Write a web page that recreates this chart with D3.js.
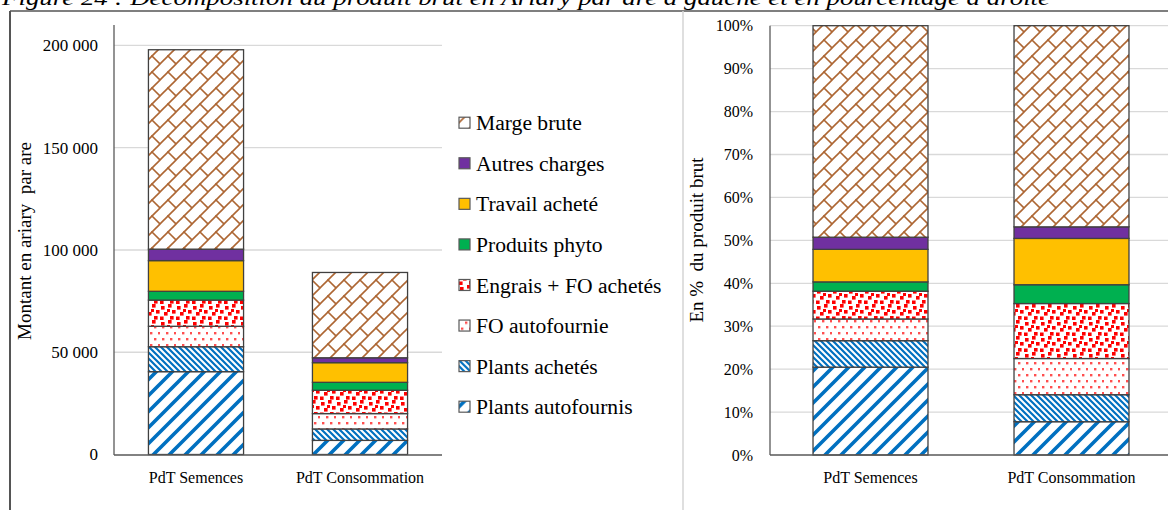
<!DOCTYPE html>
<html><head><meta charset="utf-8">
<script src="https://cdn.jsdelivr.net/npm/d3@7"></script>
<style>
html,body{margin:0;padding:0;background:#fff;}
svg{display:block;font-family:"Liberation Serif","Times New Roman",serif;}
</style></head>
<body><svg id="c" width="1168" height="510"></svg>
<script>
// ---- data ----
const categories = ["PdT Semences", "PdT Consommation"];
const seriesNames = ["Plants autofournis","Plants achetés","FO autofournie","Engrais + FO achetés","Produits phyto","Travail acheté","Autres charges","Marge brute"];
const plantsAutofournis = [40500, 6900];
const plantsAchetes     = [12200, 5600];
const foAutofournie     = [10000, 7500];
const engraisFO         = [12800, 11400];
const produitsPhyto     = [4300, 3900];
const travailAchete     = [15000, 9600];
const autresCharges     = [5600, 2400];
const margeBrute        = [97500, 41700];
const leftTicks  = [0, 50000, 100000, 150000, 200000];
const rightTicks = [0,0.1,0.2,0.3,0.4,0.5,0.6,0.7,0.8,0.9,1];
const legendOrder = ["Marge brute","Autres charges","Travail acheté","Produits phyto","Engrais + FO achetés","FO autofournie","Plants achetés","Plants autofournis"];
const titleText = "Figure 24 : Décomposition du produit brut en Ariary par are à gauche et en pourcentage à droite";

const seriesValues = [plantsAutofournis, plantsAchetes, foAutofournie, engraisFO, produitsPhyto, travailAchete, autresCharges, margeBrute];
const rows = categories.map((c,i)=>{const o={cat:c}; seriesNames.forEach((s,j)=>o[s]=seriesValues[j][i]); return o;});

const svg = d3.select("#c");
const defs = svg.append("defs");
const blue = "#0070c0";
const brick = "#ad6633";

function pat(id,w,h){const p=defs.append("pattern").attr("id",id).attr("patternUnits","userSpaceOnUse").attr("width",w).attr("height",h);
  p.append("rect").attr("width",w).attr("height",h).attr("fill","#fff"); return p;}
// Marge brute - diagonal brick
{const p=pat("pMarge",16,16);
 p.append("path").attr("d","M-4,20L20,-4").attr("stroke",brick).attr("stroke-width",1.6).attr("fill","none");
 p.append("path").attr("d","M8,8L16,16").attr("stroke",brick).attr("stroke-width",1.6).attr("stroke-linecap","square").attr("fill","none");
 p.append("path").attr("d","M0,0L0.01,0.01").attr("stroke",brick).attr("stroke-width",1.6).attr("stroke-linecap","square");}
// Engrais - large red confetti
{const p=pat("pEngrais",16,16);
 [[1,2],[8,0],[12,6],[4,8],[10,12],[0,12.5],[7,5]].forEach(([x,y],k)=>p.append("rect").attr("x",x).attr("y",y).attr("width",k==6?3:3.6).attr("height",k==6?3:3.6).attr("fill","#ff0000"));}
// FO autofournie - small red dots
{const p=pat("pFO",16,12);
 [[2,2],[10,2],[6,8],[14,8]].forEach(([x,y])=>p.append("rect").attr("x",x).attr("y",y).attr("width",2.4).attr("height",2.4).attr("fill","#ff3030").attr("opacity",0.85));}
// Plants achetés - narrow downward diagonal
{const p=pat("pAchetes",6,6);
 p.append("path").attr("d","M-3,-3L9,9M-3,3L3,9M3,-3L9,3").attr("stroke",blue).attr("stroke-width",2.2).attr("fill","none");}
// Plants autofournis - wide upward diagonal
{const p=pat("pAuto",16,16);
 p.append("path").attr("d","M-4,20L20,-4M-4,4L4,-4M12,20L20,12").attr("stroke",blue).attr("stroke-width",3.6).attr("fill","none");}

const fills = {
 "Plants autofournis":"url(#pAuto)",
 "Plants achetés":"url(#pAchetes)",
 "FO autofournie":"url(#pFO)",
 "Engrais + FO achetés":"url(#pEngrais)",
 "Produits phyto":"#00b050",
 "Travail acheté":"#ffc000",
 "Autres charges":"#7030a0",
 "Marge brute":"url(#pMarge)"
};

// ---- frames & title ----
svg.append("text").attr("x",2).attr("y",5).attr("font-style","italic").attr("font-size",22)
  .attr("textLength",1048).attr("lengthAdjust","spacingAndGlyphs").attr("fill","#000").text(titleText);
svg.append("line").attr("x1",10).attr("x2",1168).attr("y1",11).attr("y2",11).attr("stroke","#555").attr("stroke-width",1.5);
svg.append("line").attr("x1",10).attr("x2",10).attr("y1",11).attr("y2",510).attr("stroke","#555").attr("stroke-width",2);
svg.append("line").attr("x1",683).attr("x2",683).attr("y1",11).attr("y2",510).attr("stroke","#d4d4d4").attr("stroke-width",1.5);

const axisCol = "#595959", gridCol = "#d9d9d9", segStroke = "#404040";

// ---- left chart ----
const xL = d3.scaleBand().domain(categories).range([114,442]).paddingInner(0.42).paddingOuter(0.21);
const yL = d3.scaleLinear().domain([0,210000]).range([454.5,25]);
const fmt = d3.formatLocale({thousands:" ",grouping:[3],decimal:",",currency:["",""]}).format(",");
const gL = svg.append("g");
gL.append("g").selectAll("line").data(leftTicks.filter(t=>t>0)).join("line")
  .attr("x1",114).attr("x2",442).attr("y1",d=>yL(d)).attr("y2",d=>yL(d)).attr("stroke",gridCol).attr("stroke-width",1.3);
const stackL = d3.stack().keys(seriesNames)(rows);
gL.append("g").selectAll("g").data(stackL).join("g").attr("fill",d=>fills[d.key])
  .selectAll("rect").data(d=>d).join("rect")
  .attr("x",d=>xL(d.data.cat)).attr("width",xL.bandwidth())
  .attr("y",d=>yL(d[1])).attr("height",d=>yL(d[0])-yL(d[1]))
  .attr("stroke",segStroke).attr("stroke-width",1.3);
gL.append("line").attr("x1",114).attr("x2",114).attr("y1",25).attr("y2",455).attr("stroke",axisCol).attr("stroke-width",1.3);
gL.append("line").attr("x1",114).attr("x2",442).attr("y1",455).attr("y2",455).attr("stroke",axisCol).attr("stroke-width",1.3);
gL.append("g").selectAll("text").data(leftTicks).join("text")
  .attr("x",98).attr("y",d=>yL(d)).attr("dy","0.35em").attr("text-anchor","end").attr("font-size",17).text(d=>fmt(d));
gL.append("g").selectAll("text").data(categories).join("text")
  .attr("x",d=>xL(d)+xL.bandwidth()/2).attr("y",483).attr("text-anchor","middle").attr("font-size",16).text(d=>d);
gL.append("text").attr("transform","translate(31,241) rotate(-90)").attr("text-anchor","middle").attr("font-size",19)
  .style("white-space","pre").text("Montant en ariary  par are");

// legend
const lg = svg.append("g").selectAll("g").data(legendOrder).join("g").attr("transform",(d,i)=>`translate(459,${122.7+i*40.57})`);
lg.append("rect").attr("x",0).attr("y",-5.5).attr("width",11).attr("height",11).attr("fill",d=>fills[d]).attr("stroke",axisCol).attr("stroke-width",1.2);
lg.append("text").attr("x",17).attr("y",0).attr("dy","0.35em").attr("font-size",21.6).text(d=>d);

// ---- right chart ----
const xR = d3.scaleBand().domain(categories).range([770,1172]).paddingInner(0.428).paddingOuter(0.214);
const yR = d3.scaleLinear().domain([0,1]).range([455,25.7]);
const gR = svg.append("g");
gR.append("g").selectAll("line").data(rightTicks.filter(t=>t>0)).join("line")
  .attr("x1",770).attr("x2",1172).attr("y1",d=>yR(d)).attr("y2",d=>yR(d)).attr("stroke",gridCol).attr("stroke-width",1.3);
const stackR = d3.stack().keys(seriesNames).offset(d3.stackOffsetExpand)(rows);
gR.append("g").selectAll("g").data(stackR).join("g").attr("fill",d=>fills[d.key])
  .selectAll("rect").data(d=>d).join("rect")
  .attr("x",d=>xR(d.data.cat)).attr("width",xR.bandwidth())
  .attr("y",d=>yR(d[1])).attr("height",d=>yR(d[0])-yR(d[1]))
  .attr("stroke",segStroke).attr("stroke-width",1.3);
gR.append("line").attr("x1",770).attr("x2",770).attr("y1",25.7).attr("y2",455).attr("stroke",axisCol).attr("stroke-width",1.3);
gR.append("line").attr("x1",770).attr("x2",1172).attr("y1",455).attr("y2",455).attr("stroke",axisCol).attr("stroke-width",1.3);
gR.append("g").selectAll("text").data(rightTicks).join("text")
  .attr("x",753).attr("y",d=>yR(d)).attr("dy","0.35em").attr("text-anchor","end").attr("font-size",16).text(d=>d3.format(".0%")(d));
gR.append("g").selectAll("text").data(categories).join("text")
  .attr("x",d=>xR(d)+xR.bandwidth()/2).attr("y",483).attr("text-anchor","middle").attr("font-size",16).text(d=>d);
gR.append("text").attr("transform","translate(703,240) rotate(-90)").attr("text-anchor","middle").attr("font-size",19)
  .style("white-space","pre").text("En %  du produit brut");
</script></body></html>
